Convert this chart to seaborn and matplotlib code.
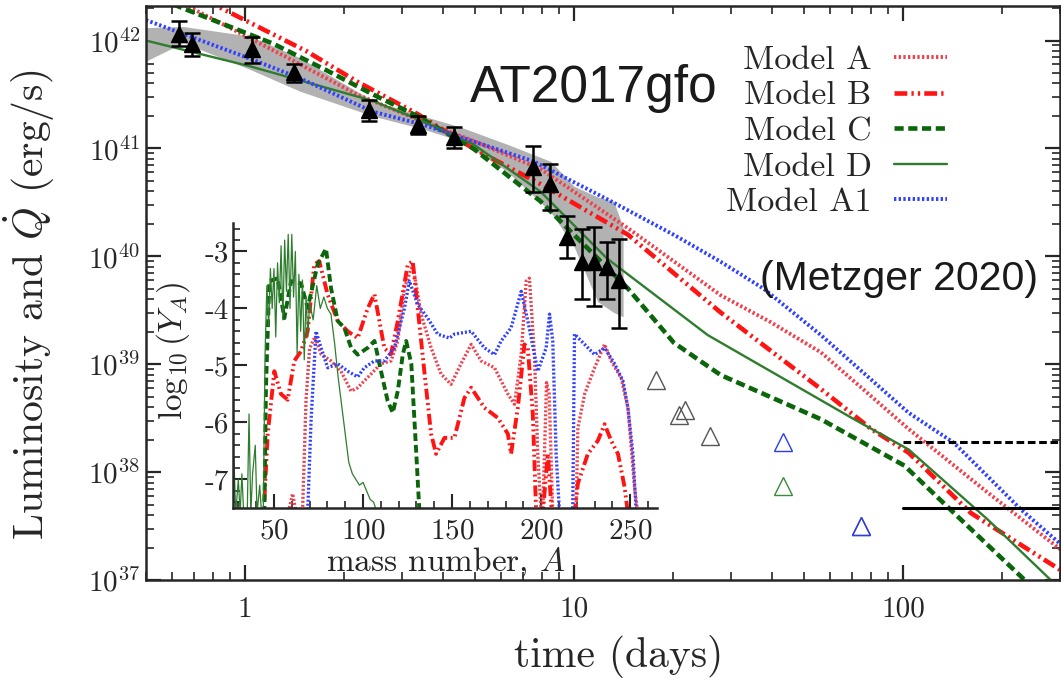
import numpy as np
import pandas as pd
import matplotlib
matplotlib.use("Agg")
import matplotlib.pyplot as plt
import seaborn as sns
from matplotlib.ticker import FixedLocator, FixedFormatter, LogLocator, NullFormatter, MultipleLocator

# ---------------- main panel data (log10 of luminosity in erg/s) ----------------
model_a_t = [0.5, 0.73, 1.31, 2.19, 3.34, 4.94, 7.91, 14.6, 27.9, 39.6, 56.3, 104, 181, 302]
model_a_L = [42.50, 42.26, 41.86, 41.50, 41.27, 41.07, 40.81, 40.26, 39.64, 39.39, 39.11, 38.40, 37.81, 37.28]

model_b_t = [0.7, 0.822, 1.54, 2.19, 3.34, 4.94, 7.91, 14.6, 27.9, 56.3, 80, 104, 161, 302]
model_b_L = [42.45, 42.32, 41.90, 41.62, 41.32, 41.00, 40.67, 40.20, 39.48, 38.77, 38.40, 38.18, 37.62, 37.09]

model_c_t = [0.5, 0.647, 1.22, 1.78, 2.45, 3.34, 4.94, 7.91, 14.6, 20.1, 27.9, 56.3, 101, 143, 240, 302]
model_c_L = [42.44, 42.30, 41.97, 41.72, 41.50, 41.30, 41.00, 40.51, 39.70, 39.20, 38.90, 38.49, 38.06, 37.62, 36.97, 36.68]

model_d_t = [0.5, 1.04, 2.45, 3.48, 4.94, 7.91, 12.6, 25.5, 71, 104, 181, 288, 302]
model_d_L = [42.0, 41.76, 41.44, 41.25, 41.04, 40.60, 39.98, 39.27, 38.49, 38.21, 37.56, 36.97, 36.91]

model_a1_t = [0.5, 1.04, 1.47, 2.45, 3.48, 7.53, 12.6, 20.1, 27.9, 37.7, 56.3, 104, 143, 229, 302]
model_a1_L = [42.19, 41.83, 41.65, 41.34, 41.22, 40.88, 40.53, 40.20, 39.95, 39.70, 39.27, 38.55, 38.27, 37.65, 37.33]

obs_t = [0.63, 0.69, 1.05, 1.41, 2.38, 3.36, 4.33, 7.53, 8.48, 9.55, 10.6, 11.5, 12.6, 13.7]
obs_L = [42.06, 41.97, 41.92, 41.71, 41.36, 41.22, 41.11, 40.83, 40.67, 40.18, 39.95, 39.95, 39.90, 39.78]
obs_hi = [42.18, 42.07, 42.03, 41.78, 41.45, 41.30, 41.20, 41.02, 40.86, 40.37, 40.25, 40.27, 40.13, 40.16]
obs_lo = [41.95, 41.86, 41.79, 41.62, 41.25, 41.13, 41.00, 40.60, 40.43, 39.98, 39.60, 39.54, 39.60, 39.34]

band_t = [0.5, 0.65, 1.04, 1.47, 2.45, 3.48, 4.5, 6.25, 8.5, 10.0, 11.8, 13.2, 14.1]
band_hi = [42.12, 42.13, 42.04, 41.84, 41.44, 41.30, 41.20, 41.04, 40.88, 40.65, 40.55, 40.51, 40.27]
band_lo = [41.81, 41.98, 41.73, 41.53, 41.30, 41.18, 41.07, 40.79, 40.41, 40.09, 39.58, 39.48, 39.44]

lim_gray_t = [17.7, 20.9, 21.8, 25.9, 74.4]
lim_gray_L = [38.85, 38.53, 38.58, 38.33, 37.50]
lim_blue_t = [43.3, 74.4]
lim_blue_L = [38.28, 37.50]
lim_green_t = [43.3]
lim_green_L = [37.87]

hline_t = [100, 300]
hline_dashed = 38.28
hline_solid = 37.67

# ---------------- inset data: log10(Y_A) vs mass number A ----------------
ins_a_A = [58.6, 60.5, 62.5, 66, 68, 70, 73, 76.4, 82, 87.6, 93.3, 97, 100.7, 104.5, 110, 115.7, 119.5,
           123.2, 127.9, 132.6, 138.2, 143.8, 149.4, 155, 160.7, 166.3, 173.8, 181.3, 185, 188.8, 191.6,
           193.4, 196.2, 198.1, 200, 200.9, 203, 204.5, 206.5, 219.6, 220.6, 224.4, 230, 235.6, 239.3,
           244.9, 248.7, 252.4, 254.3]
ins_a_Y = [-7.5, -7.25, -7.6, -7.6, -5.6, -4.7, -4.5, -4.8, -4.92, -5.1, -5.45, -5.39, -5.27, -5.15, -4.97,
           -4.92, -4.57, -3.64, -3.23, -4.1, -4.69, -5.15, -5.33, -4.97, -4.63, -4.92, -5.04, -5.5, -5.68,
           -4.8, -3.52, -3.47, -4.8, -6.55, -7.6, -7.6, -5.3, -5.5, -7.6, -7.6, -6.1, -5.5, -5.04, -4.63,
           -4.92, -5.22, -5.74, -7.14, -7.6]

ins_b_A = [44.6, 46.5, 50.2, 53.9, 57.7, 61.4, 65.2, 68.9, 72.6, 75.4, 80.1, 85.8, 91.4, 97, 102.6, 106.4,
           112, 115.7, 119.5, 125.1, 127.9, 130.7, 134.4, 138.2, 141, 145.7, 151.3, 156.9, 160.7, 168.1,
           175.7, 181.3, 183.1, 186.9, 190.6, 192.5, 195.3, 197.2, 200.9, 203.7, 206, 218.7, 220.6, 226.2,
           231.8, 235.6, 239.3, 243.1, 246.8, 248.7]
ins_b_Y = [-7.37, -6.2, -5.1, -5.5, -5.6, -4.92, -4.75, -4.4, -3.23, -3.17, -3.75, -4.22, -4.4, -4.52, -4.0,
           -3.75, -4.7, -4.8, -4.22, -3.23, -3.17, -4.0, -5.1, -6.2, -6.55, -6.27, -6.27, -5.57, -5.39, -5.74,
           -5.92, -6.2, -6.55, -5.74, -4.63, -4.69, -5.85, -7.6, -7.6, -6.55, -7.6, -7.6, -7.07, -6.55,
           -6.32, -6.03, -6.32, -6.55, -7.13, -7.6]

ins_c_A = [44.6, 45.5, 47.4, 52.1, 55.8, 59.6, 65.2, 68.9, 74.5, 79.2, 82, 85.8, 89.5, 93.3, 97, 102.6,
           106.4, 110.1, 113.8, 116.7, 119.5, 122.3, 124.2, 127.1, 129.9, 131.7]
ins_c_Y = [-7.6, -5.39, -3.52, -3.47, -4.17, -3.52, -3.56, -3.99, -3.23, -2.95, -3.64, -4.22, -4.34, -4.69,
           -4.81, -4.69, -4.57, -5.1, -5.62, -5.83, -5.45, -4.81, -4.57, -4.97, -6.55, -7.6]

ins_d_A = [27.5, 28.5, 30, 31, 32, 33, 35, 36, 37, 38, 39.5, 40.5, 42, 43, 44, 45, 46, 47, 48, 49, 50, 51,
           52, 53, 54, 55, 56, 57, 58, 59, 60, 61, 62, 63, 64, 65, 66, 67, 68, 69, 70, 72, 74, 76, 78, 80,
           82, 84, 86, 88, 90, 92, 94, 96, 98, 100, 102, 104, 106, 108]
ins_d_Y = [-6.6, -7.6, -7.0, -7.6, -6.9, -7.6, -7.6, -5.85, -7.6, -6.9, -6.4, -7.6, -7.1, -7.6, -7.6, -4.8,
           -3.6, -4.3, -3.3, -4.0, -3.3, -4.5, -3.2, -3.9, -2.9, -4.2, -2.8, -3.7, -2.7, -4.0, -2.7, -3.8,
           -3.0, -4.8, -3.4, -4.4, -3.5, -4.9, -3.8, -4.5, -3.9, -4.2, -3.6, -4.0, -3.8, -4.0, -4.1, -4.6,
           -5.2, -5.7, -6.2, -6.7, -6.9, -7.0, -7.1, -7.05, -7.2, -7.35, -7.4, -7.6]

ins_a1_A = [68.9, 70.8, 73.6, 76.4, 80.2, 85.8, 91.4, 97, 100.7, 106.4, 112, 117.6, 123.2, 126, 130.7, 136.3,
            141.9, 148.5, 151.3, 160.7, 168.1, 173.8, 177.5, 183.1, 188.8, 192.5, 198.1, 202.8, 204.7, 206.5,
            208.4, 210.3, 217.7, 218.7, 224.4, 230, 235.6, 241.2, 245.9, 248.7, 251.5, 253.4]
ins_a1_Y = [-7.6, -5.97, -4.4, -4.69, -5.04, -4.97, -5.1, -5.2, -5.04, -4.92, -4.92, -4.69, -4.0, -3.52,
            -3.93, -4.17, -4.45, -4.52, -4.45, -4.4, -4.69, -4.81, -4.57, -4.34, -3.7, -4.22, -5.1, -4.69,
            -4.1, -4.57, -6.55, -7.6, -7.6, -4.45, -4.63, -4.81, -4.69, -4.97, -5.27, -5.74, -6.55, -7.6]

labels = ["Model A", "Model B", "Model C", "Model D", "Model A1"]
colors = ["#f0404c", "#ff1414", "#0b660b", "#2e7d2e", "#3040ff"]

# ---------------- styling ----------------
sns.set_style("ticks")
plt.rcParams.update({
    "font.family": ["cmr10", "DejaVu Serif"],
    "mathtext.fontset": "cm",
    "axes.formatter.use_mathtext": True,
    "axes.unicode_minus": False,
    "axes.linewidth": 1.8,
    "xtick.direction": "in",
    "ytick.direction": "in",
})

fig = plt.figure(figsize=(10.61, 6.85), dpi=100)
ax = fig.add_axes([0.1376, 0.1533, 0.8614, 0.8379])

def L(v):
    return 10 ** np.asarray(v, dtype=float)

ax.fill_between(band_t, L(band_lo), L(band_hi), color="#b2b2b2", lw=0, zorder=1)

main_series = [
    (model_a_t, model_a_L, dict(ls=(0, (0.6, 0.6)), lw=2.8)),
    (model_b_t, model_b_L, dict(ls=(0, (2.8, 0.9, 0.5, 0.9, 0.5, 0.9)), lw=3.3)),
    (model_c_t, model_c_L, dict(ls=(0, (2.0, 1.0)), lw=3.3)),
    (model_d_t, model_d_L, dict(ls="-", lw=1.7)),
    (model_a1_t, model_a1_L, dict(ls=(0, (0.6, 0.6)), lw=2.8)),
]
for (t, l, sty), lab, c in zip(main_series, labels, colors):
    df = pd.DataFrame({"t": t, "L": L(l)})
    sns.lineplot(data=df, x="t", y="L", ax=ax, color=c, label=lab, estimator=None,
                 sort=False, zorder=2, **sty)

for val, ls in [(hline_dashed, (0, (2.5, 1.2))), (hline_solid, "-")]:
    df = pd.DataFrame({"t": hline_t, "L": L([val, val])})
    sns.lineplot(data=df, x="t", y="L", ax=ax, color="black", lw=2.2, ls=ls,
                 estimator=None, zorder=2, legend=False)

yv = L(obs_L)
ax.errorbar(obs_t, yv, yerr=[yv - L(obs_lo), L(obs_hi) - yv], fmt="^", color="black",
            ms=12, capsize=6, elinewidth=1.8, capthick=1.8, zorder=4)

ax.plot(lim_gray_t, L(lim_gray_L), ls="none", marker="^", ms=13, mfc="none", mec="#555555", mew=1.0, zorder=3)
ax.plot(lim_blue_t, L(lim_blue_L), ls="none", marker="^", ms=13, mfc="none", mec="#2a3cf0", mew=1.0, zorder=3)
ax.plot(lim_green_t, L(lim_green_L), ls="none", marker="^", ms=13, mfc="none", mec="#3a8a3a", mew=1.0, zorder=3)

ax.set_xscale("log")
ax.set_yscale("log")
ax.set_xlim(0.5, 300)
ax.set_ylim(1e37, 10 ** 42.32)
ax.xaxis.set_major_locator(FixedLocator([1, 10, 100]))
ax.xaxis.set_major_formatter(FixedFormatter(["1", "10", "100"]))
ax.xaxis.set_minor_locator(LogLocator(base=10, subs=np.arange(2, 10) * 1.0, numticks=20))
ax.xaxis.set_minor_formatter(NullFormatter())
ax.yaxis.set_major_locator(LogLocator(base=10, numticks=20))
ax.yaxis.set_minor_locator(LogLocator(base=10, subs=np.arange(2, 10) * 1.0, numticks=30))
ax.yaxis.set_minor_formatter(NullFormatter())
ax.tick_params(which="both", direction="in", top=True, right=True, labelsize=21)
ax.tick_params(which="major", length=11, width=1.6)
ax.tick_params(which="minor", length=5.5, width=1.2)
ax.tick_params(axis="x", pad=12)
ax.tick_params(axis="y", pad=4)

ax.set_xlabel("time (days)", fontsize=30)
ax.set_ylabel(r"Luminosity and $\dot{Q}$ (erg/s)", fontsize=30)
ax.xaxis.set_label_coords(0.517, -0.095)
ax.yaxis.set_label_coords(-0.097, 0.48)

leg = ax.legend(loc="upper right", bbox_to_anchor=(0.876, 0.932), frameon=False, markerfirst=False,
                fontsize=24.5, handlelength=1.55, handletextpad=0.65, labelspacing=0.17, borderpad=0,
                borderaxespad=0)

ax.text(0.3545, 0.8328, "AT2017gfo", transform=ax.transAxes, fontsize=37, family="Liberation Sans",
        color="#1a1a1a", va="baseline", ha="left")
ax.text(0.672, 0.505, "(Metzger 2020)", transform=ax.transAxes, fontsize=29.5, family="Liberation Sans",
        color="#1a1a1a", va="baseline", ha="left")

# ---------------- inset ----------------
ins = fig.add_axes([0.2196, 0.2584, 0.3996, 0.4161])
ins.set_facecolor("none")
inset_series = [
    (ins_a_A, ins_a_Y, dict(ls=(0, (0.6, 0.6)), lw=2.4)),
    (ins_b_A, ins_b_Y, dict(ls=(0, (2.8, 0.9, 0.5, 0.9, 0.5, 0.9)), lw=2.8)),
    (ins_c_A, ins_c_Y, dict(ls=(0, (2.0, 1.0)), lw=2.8)),
    (ins_d_A, ins_d_Y, dict(ls="-", lw=0.9)),
    (ins_a1_A, ins_a1_Y, dict(ls=(0, (0.6, 0.6)), lw=2.4)),
]
for (a, y, sty), c in zip(inset_series, colors):
    df = pd.DataFrame({"A": a, "Y": y})
    sns.lineplot(data=df, x="A", y="Y", ax=ins, color=c, estimator=None, sort=False, legend=False, **sty)

ins.set_xlim(27, 265)
ins.set_ylim(-7.5, -2.5)
ins.xaxis.set_major_locator(FixedLocator([50, 100, 150, 200, 250]))
ins.xaxis.set_minor_locator(MultipleLocator(10))
ins.yaxis.set_major_locator(FixedLocator([-7, -6, -5, -4, -3]))
ins.yaxis.set_major_formatter(FixedFormatter(["-7", "-6", "-5", "-4", "-3"]))
ins.yaxis.set_minor_locator(MultipleLocator(0.2))
for side in ["top", "right"]:
    ins.spines[side].set_visible(False)
for side in ["left", "bottom"]:
    ins.spines[side].set_linewidth(1.8)
ins.tick_params(which="both", direction="in", labelsize=21)
ins.tick_params(which="major", length=10, width=1.5)
ins.tick_params(which="minor", length=5, width=1.2)
ins.tick_params(axis="x", pad=7)
ins.tick_params(axis="y", pad=3)
ins.set_xlabel("mass number, $A$", fontsize=24)
ins.set_ylabel(r"$\log_{10}(Y_A)$", fontsize=24)
ins.xaxis.set_label_coords(0.502, -0.13)
ins.yaxis.set_label_coords(-0.097, 0.55)

fig.savefig("out.png", dpi=100)
